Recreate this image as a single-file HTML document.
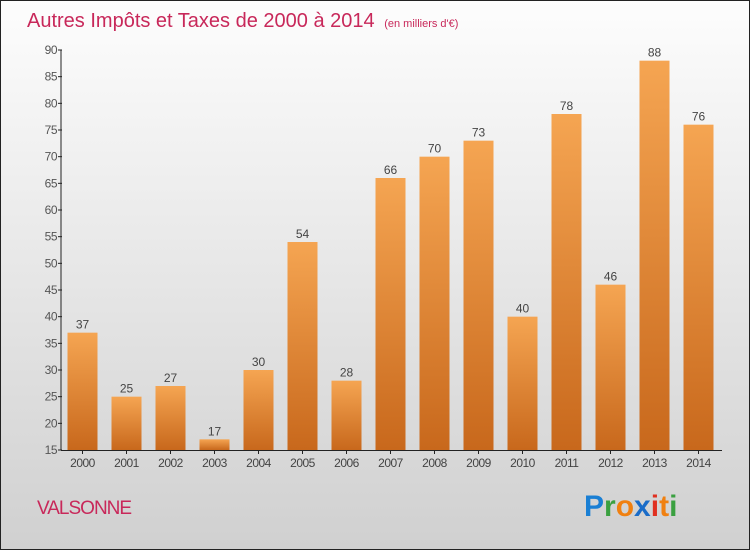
<!DOCTYPE html>
<html><head><meta charset="utf-8"><style>
html,body{margin:0;padding:0;}
body{width:750px;height:550px;overflow:hidden;font-family:"Liberation Sans",sans-serif;}
</style></head><body>
<svg id="chart" width="750" height="550" xmlns="http://www.w3.org/2000/svg">
<defs>
<linearGradient id="bg" x1="0" y1="0" x2="0" y2="1"><stop offset="0" stop-color="#fdfdfd"/><stop offset="1" stop-color="#d0d0d0"/></linearGradient>
<linearGradient id="bar" x1="0" y1="0" x2="0" y2="1"><stop offset="0" stop-color="#f5a552"/><stop offset="1" stop-color="#c8681c"/></linearGradient>
</defs>
<rect x="0.5" y="0.5" width="749" height="549" fill="url(#bg)" stroke="#222" stroke-width="1"/>
<text x="27" y="27" font-size="20" fill="#c8285a">Autres Impôts et Taxes de 2000 à 2014 <tspan font-size="11" dx="4">(en milliers d'€)</tspan></text>
<g id="axes"></g>
<g id="bars"></g>
<text x="37" y="514" font-size="19" fill="#c8285a" letter-spacing="-1">VALSONNE</text>
<g font-size="30" font-weight="bold" font-family="Liberation Sans, sans-serif">
<text x="584" y="516" fill="#1a7fd4">P<tspan fill="#3aa040">r</tspan><tspan fill="#f08010">o</tspan><tspan fill="#1a6cc8">x</tspan><tspan fill="#e03020">i</tspan><tspan fill="#f08010">t</tspan><tspan fill="#3aa040">i</tspan></text>
</g>
</svg>
<script>
const years=["2000","2001","2002","2003","2004","2005","2006","2007","2008","2009","2010","2011","2012","2013","2014"];
const values=[37,25,27,17,30,54,28,66,70,73,40,78,46,88,76];
const yTicks=[15,20,25,30,35,40,45,50,55,60,65,70,75,80,85,90];
const NS="http://www.w3.org/2000/svg";
const x0=60.5,x1=720.5,yTop=50,yBot=450,vMin=15,vMax=90;
const band=(x1-x0)/years.length;
function yS(v){return yBot-(v-vMin)/(vMax-vMin)*(yBot-yTop);}
function xS(i){return x0+i*band;}
function mk(t,a,p){const e=document.createElementNS(NS,t);for(const k in a)e.setAttribute(k,a[k]);p.appendChild(e);return e;}
const ax=document.getElementById('axes'),bg=document.getElementById('bars');
const yl=mk('line',{x1:61,y1:yTop,x2:61,y2:yBot,stroke:'#222'},ax);


const xl=mk('line',{x1:61,y1:yBot+0.5,x2:722,y2:yBot+0.5,stroke:'#222'},ax);


yTicks.forEach(v=>{
 const y=yS(v);
 mk('line',{x1:58,y1:y,x2:62,y2:y,stroke:'#222'},ax);
 const t=mk('text',{x:57,y:y+4,'text-anchor':'end','font-size':12,fill:'#555','letter-spacing':'-0.5'},ax);
 t.textContent=v;
 
 
});
years.forEach((yr,i)=>{
 const cx=xS(i)+band/2,v=values[i],y=yS(v);
 const r=mk('rect',{x:cx-15,y:y,width:30,height:yBot-y,fill:'url(#bar)'},bg);
 
 
 const l=mk('text',{x:cx,y:y-4,'text-anchor':'middle','font-size':12,fill:'#444'},bg);
 l.textContent=v;
 
 
 mk('line',{x1:cx,y1:yBot,x2:cx,y2:yBot+4,stroke:'#222'},ax);
 const t=mk('text',{x:cx,y:467,'text-anchor':'middle','font-size':12,fill:'#444','letter-spacing':'-0.5'},ax);
 t.textContent=yr;
 
 
});
</script>
</body></html>
